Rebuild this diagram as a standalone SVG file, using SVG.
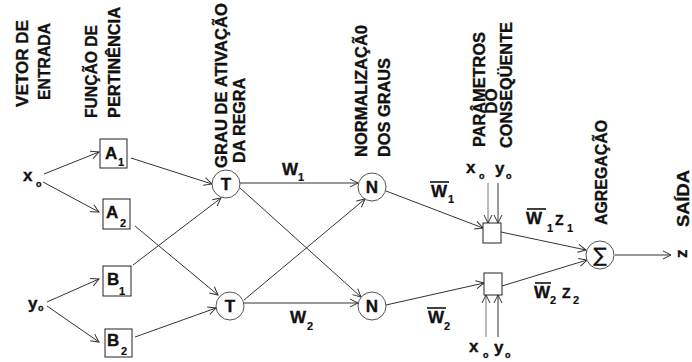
<svg xmlns="http://www.w3.org/2000/svg" width="692" height="362" viewBox="0 0 692 362">
<style>
  text { font-family: "Liberation Sans", Arial, sans-serif; font-weight: bold; fill: #111; stroke: #111; stroke-width: 0.35; }
  .hd { font-size: 17px; }
  .lb { font-size: 17px; }
  .sb { font-size: 11px; stroke-width: 0.2; }
  .so { font-size: 9px; }
  .box { fill: #fff; stroke: #222; stroke-width: 1; }
  .cir { fill: #fff; stroke: #555; stroke-width: 1; }
  .cn line { stroke: #333; stroke-width: 1; fill: none; marker-end: url(#ah); }
  .cn line.g { stroke: #777; }
  .ov { stroke: #111; stroke-width: 1.6; }
</style>
<defs>
  <marker id="ah" markerUnits="userSpaceOnUse" markerWidth="12" markerHeight="12" refX="9" refY="5" orient="auto">
    <path d="M1,1 L9,5 L1,9" fill="none" stroke="#333" stroke-width="1"/>
  </marker>
</defs>
<rect width="692" height="362" fill="#fff"/>

<g id="headers">
  <text class="hd" transform="translate(28,107) rotate(-90)" textLength="87" lengthAdjust="spacingAndGlyphs">VETOR DE</text>
  <text class="hd" transform="translate(50,100) rotate(-90)" textLength="77" lengthAdjust="spacingAndGlyphs">ENTRADA</text>
  <text class="hd" transform="translate(97,118) rotate(-90)" textLength="93" lengthAdjust="spacingAndGlyphs">FUNÇÃO DE</text>
  <text class="hd" transform="translate(120,118) rotate(-90)" textLength="111" lengthAdjust="spacingAndGlyphs">PERTINÊNCIA</text>
  <text class="hd" transform="translate(227,168) rotate(-90)" textLength="165" lengthAdjust="spacingAndGlyphs">GRAU DE ATIVAÇÃO</text>
  <text class="hd" transform="translate(245,163) rotate(-90)" textLength="85" lengthAdjust="spacingAndGlyphs">DA REGRA</text>
  <text class="hd" transform="translate(367,157) rotate(-90)" textLength="132" lengthAdjust="spacingAndGlyphs">NORMALIZAÇÃ0</text>
  <text class="hd" transform="translate(390,157) rotate(-90)" textLength="99" lengthAdjust="spacingAndGlyphs">DOS GRAUS</text>
  <text class="hd" transform="translate(485,147) rotate(-90)" textLength="115" lengthAdjust="spacingAndGlyphs">PARÂMETROS</text>
  <text class="hd" transform="translate(497,101) rotate(-90)" text-anchor="middle">DO</text>
  <text class="hd" transform="translate(512,148) rotate(-90)" textLength="126" lengthAdjust="spacingAndGlyphs">CONSEQÜENTE</text>
  <text class="hd" transform="translate(607,225) rotate(-90)" textLength="105" lengthAdjust="spacingAndGlyphs">AGREGAÇÃO</text>
  <text class="hd" transform="translate(689,227) rotate(-90)" textLength="57" lengthAdjust="spacingAndGlyphs">SAÍDA</text>
</g>

<g class="cn" id="connectors">
  <line x1="44" y1="174" x2="99" y2="152"/>
  <line x1="43" y1="182" x2="99" y2="212"/>
  <line x1="47" y1="302" x2="99" y2="279"/>
  <line x1="47" y1="306" x2="99" y2="342"/>
  <line x1="131" y1="158" x2="212" y2="184"/>
  <line x1="133" y1="265" x2="221" y2="198"/>
  <line x1="135" y1="226" x2="218" y2="295"/>
  <line x1="135" y1="337" x2="216" y2="308"/>
  <line x1="240" y1="183" x2="358" y2="183"/>
  <line x1="240" y1="188" x2="361" y2="297"/>
  <line x1="244" y1="300" x2="365" y2="199"/>
  <line x1="244" y1="303" x2="358" y2="303"/>
  <line x1="386" y1="191" x2="483" y2="228"/>
  <line x1="386" y1="305" x2="484" y2="283"/>
  <line x1="501" y1="232" x2="586" y2="250"/>
  <line x1="502" y1="286" x2="587" y2="260"/>
  <line x1="615" y1="255" x2="671" y2="255"/>
  <line class="g" x1="488" y1="183" x2="488" y2="223"/>
  <line x1="498" y1="183" x2="498" y2="223"/>
  <line class="g" x1="486" y1="337" x2="486" y2="295"/>
  <line x1="498" y1="337" x2="498" y2="295"/>
</g>

<g id="x0-in"><text class="lb" x="23" y="181">x<tspan class="so" x="36" y="187">o</tspan></text></g>
<g id="y0-in"><text class="lb" x="28" y="309">y<tspan class="so" x="38" y="311">o</tspan></text></g>

<g id="A1"><rect class="box" x="100" y="139" width="27" height="29"/><text class="lb" x="105" y="159">A<tspan class="sb" x="118" y="166">1</tspan></text></g>
<g id="A2"><rect class="box" x="103" y="199" width="27" height="30"/><text class="lb" x="106" y="218">A<tspan class="sb" x="120" y="227">2</tspan></text></g>
<g id="B1"><rect class="box" x="103" y="266" width="28" height="30"/><text class="lb" x="107" y="285">B<tspan class="sb" x="119" y="295">1</tspan></text></g>
<g id="B2"><rect class="box" x="105" y="329" width="27" height="28"/><text class="lb" x="107" y="346">B<tspan class="sb" x="121" y="355">2</tspan></text></g>

<g id="T1"><circle class="cir" cx="226" cy="184" r="14"/><text class="lb" x="226" y="190" text-anchor="middle">T</text></g>
<g id="T2"><circle class="cir" cx="230" cy="306" r="14"/><text class="lb" x="230" y="312" text-anchor="middle">T</text></g>
<g id="N1"><circle class="cir" cx="372" cy="187" r="14"/><text class="lb" x="372" y="193" text-anchor="middle">N</text></g>
<g id="N2"><circle class="cir" cx="372" cy="306" r="14"/><text class="lb" x="372" y="312" text-anchor="middle">N</text></g>

<g id="P1"><rect class="box" x="483" y="223" width="18" height="20"/></g>
<g id="P2"><rect class="box" x="484" y="273" width="18" height="22"/></g>

<g id="S"><circle class="cir" cx="600" cy="255" r="14"/><text x="600" y="262" text-anchor="middle" style="font-family:'DejaVu Sans',sans-serif;font-weight:normal;font-size:20px;stroke-width:0.2">∑</text></g>

<g id="out"><text class="lb" transform="translate(687,258) rotate(-90)">z</text></g>

<g id="p-top"><text class="lb" x="466" y="173">x<tspan class="so" x="479" y="179">o</tspan></text><text class="lb" x="495" y="174">y<tspan class="so" x="506" y="179">o</tspan></text></g>
<g id="p-bot"><text class="lb" x="469" y="352">x<tspan class="so" x="483" y="358">o</tspan></text><text class="lb" x="494" y="353">y<tspan class="so" x="505" y="358">o</tspan></text></g>

<g id="weights">
  <text class="lb" x="282" y="175">W<tspan class="sb" x="298" y="181">1</tspan></text>
  <text class="lb" x="290" y="323">W<tspan class="sb" x="307" y="330">2</tspan></text>
  <line class="ov" x1="430" y1="182" x2="449" y2="182"/>
  <text class="lb" x="431" y="197">W<tspan class="sb" x="448" y="203">1</tspan></text>
  <line class="ov" x1="427" y1="308" x2="446" y2="308"/>
  <text class="lb" x="428" y="323">W<tspan class="sb" x="444" y="330">2</tspan></text>
  <line class="ov" x1="527" y1="209" x2="546" y2="209"/>
  <text class="lb" x="526" y="224">W<tspan class="sb" x="547" y="232">1</tspan><tspan x="555" y="225" style="font-size:14px">Z</tspan><tspan class="sb" x="567" y="232">1</tspan></text>
  <line class="ov" x1="535" y1="283" x2="551" y2="283"/>
  <text class="lb" x="534" y="298">W<tspan class="sb" x="550" y="304">2</tspan><tspan x="562" y="298" style="font-size:14px">Z</tspan><tspan class="sb" x="573" y="304">2</tspan></text>
</g>
</svg>
